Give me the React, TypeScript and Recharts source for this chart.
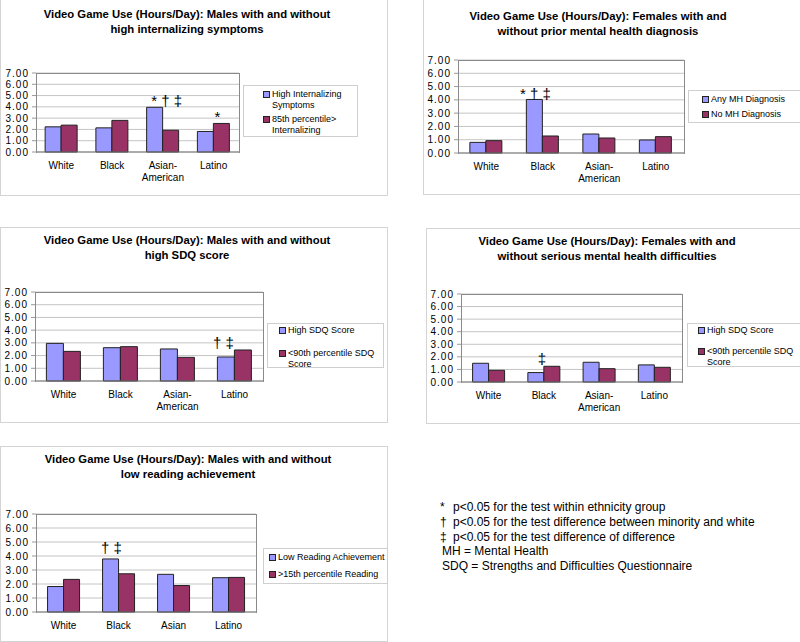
import React from 'react';
import { BarChart, Bar, XAxis, YAxis, CartesianGrid, LabelList } from 'recharts';

const FONT = 'Arial, "Liberation Sans", sans-serif';
const BLUE = '#9999FF';
const PLUM = '#993366';

const groups = ['White', 'Black', 'Asian-American', 'Latino'];
const groupsReading = ['White', 'Black', 'Asian', 'Latino'];
const yTicks = [0, 1, 2, 3, 4, 5, 6, 7];

// males, internalizing symptoms
const intTitle = ['Video Game Use (Hours/Day): Males with and without', 'high internalizing symptoms'];
const intNames = ['High Internalizing Symptoms', '85th percentile> Internalizing'];
const intHigh = [2.23, 2.14, 3.96, 1.82];
const intRest = [2.38, 2.8, 1.93, 2.53];
const intMarks = ['', '', '* † ‡', '*'];

// females, prior MH diagnosis
const mhTitle = ['Video Game Use (Hours/Day): Females with and', 'without prior mental health diagnosis'];
const mhNames = ['Any MH Diagnosis', 'No MH Diagnosis'];
const mhAny = [0.8, 4.03, 1.43, 0.98];
const mhNone = [0.93, 1.28, 1.13, 1.23];
const mhMarks = ['', '* † ‡', '', ''];

// males, SDQ
const sdqMTitle = ['Video Game Use (Hours/Day): Males with and without', 'high SDQ score'];
const sdqNames = ['High SDQ Score', '<90th percentile SDQ Score'];
const sdqMHigh = [2.96, 2.62, 2.52, 1.89];
const sdqMRest = [2.33, 2.7, 1.86, 2.44];
const sdqMMarks = ['', '', '', '† ‡'];

// females, serious MH difficulties
const sdqFTitle = ['Video Game Use (Hours/Day): Females with and', 'without serious mental health difficulties'];
const sdqFHigh = [1.49, 0.75, 1.57, 1.36];
const sdqFRest = [0.93, 1.25, 1.06, 1.17];
const sdqFMarks = ['', '‡', '', ''];

// males, reading
const readTitle = ['Video Game Use (Hours/Day): Males with and without', 'low reading achievement'];
const readNames = ['Low Reading Achievement', '>15th percentile Reading'];
const readLow = [1.82, 3.79, 2.69, 2.45];
const readRest = [2.33, 2.73, 1.89, 2.47];
const readMarks = ['', '† ‡', '', ''];

const footnotes = [
  ['*', 'p<0.05 for the test within ethnicity group'],
  ['†', 'p<0.05 for the test difference between minority and white'],
  ['‡', 'p<0.05 for the test difference of difference'],
  ['', 'MH = Mental Health'],
  ['', 'SDQ = Strengths and Difficulties Questionnaire'],
];

type Rect = { x: number; y: number; w: number; h: number };
type LegendLayout = { x: number; y: number; w: number; h: number; padTop: number; padLeft: number; gap: number; textW: number };

type PanelProps = {
  box: Rect;
  plot: Rect;
  titleX: number;
  titleY: number;
  legend: LegendLayout;
  catGap: string;
  markDx: number;
  markLift: number;
  title: string[];
  names: string[];
  cats: string[];
  a: number[];
  b: number[];
  marks: string[];
};

const CatTick = (props: any) => {
  const { x, y, payload } = props;
  const label: string = payload.value;
  const k = label.indexOf('-');
  const lines = k >= 0 ? [label.slice(0, k + 1), label.slice(k + 1)] : [label];
  return (
    <text x={x} y={y} textAnchor="middle" fontSize={10} fill="#000" fontFamily={FONT}>
      {lines.map((l, i) => (
        <tspan key={i} x={x} dy={i === 0 ? 17 : 12}>{l}</tspan>
      ))}
    </text>
  );
};

const Panel = (p: PanelProps) => {
  const data = p.cats.map((c, i) => ({ cat: c, a: p.a[i], b: p.b[i], i }));
  const top = 6;
  const left = 40;

  const renderMark = (lp: any) => {
    const vb = lp.viewBox && lp.viewBox.width !== undefined ? lp.viewBox : lp;
    const i = Number(lp.value);
    const mark = p.marks[i];
    if (!mark) return null;
    const bottom = vb.y + vb.height;
    const perUnit = vb.height / p.a[i];
    const peak = bottom - Math.max(p.a[i], p.b[i]) * perUnit;
    return (
      <text x={vb.x + vb.width + p.markDx} y={peak - p.markLift} textAnchor="middle" fontSize={15} fill="#000" fontFamily={FONT}>
        {mark}
      </text>
    );
  };

  return (
    <>
      <div style={{ position: 'absolute', left: p.box.x, top: p.box.y, width: p.box.w, height: p.box.h, border: '1px solid #d4d4d4', boxSizing: 'border-box', background: '#fff' }} />
      <div style={{ position: 'absolute', left: p.titleX - 200, top: p.titleY, width: 400, textAlign: 'center', fontSize: 11.3, fontWeight: 'bold', lineHeight: '14.5px', color: '#000' }}>
        {p.title.map((t, i) => <div key={i}>{t}</div>)}
      </div>
      <div style={{ position: 'absolute', left: p.plot.x - left, top: p.plot.y - top }}>
        <BarChart
          width={p.plot.w + left + 6}
          height={p.plot.h + top + 40}
          data={data}
          margin={{ top, right: 6, left: 0, bottom: 0 }}
          barCategoryGap={p.catGap}
          barGap={0}
        >
          <CartesianGrid vertical={false} stroke="#c4c4c4" />
          <XAxis dataKey="cat" height={40} tick={<CatTick />} tickLine={false} tickSize={0} tickMargin={0} axisLine={{ stroke: '#777' }} interval={0} />
          <YAxis
            width={left}
            domain={[0, 7]}
            ticks={yTicks}
            interval={0}
            axisLine={false}
            tickLine={{ stroke: '#999' }}
            tickSize={4}
            tickMargin={3}
            tickFormatter={(v: number) => v.toFixed(2)}
            tick={{ fontSize: 10, fill: '#000', fontFamily: FONT, letterSpacing: 1 }}
          />
          <Bar dataKey="a" name={p.names[0]} fill={BLUE} stroke="#222" strokeWidth={1} isAnimationActive={false}>
            <LabelList dataKey="i" content={renderMark} />
          </Bar>
          <Bar dataKey="b" name={p.names[1]} fill={PLUM} stroke="#222" strokeWidth={1} isAnimationActive={false} />
        </BarChart>
      </div>
      <div style={{ position: 'absolute', left: p.plot.x, top: p.plot.y, width: p.plot.w + 1, height: p.plot.h + 1, border: '1px solid #8a8a8a', borderBottom: 'none', boxSizing: 'border-box', pointerEvents: 'none' }} />
      <div style={{ position: 'absolute', left: p.legend.x, top: p.legend.y, width: p.legend.w, height: p.legend.h, border: '1px solid #cfcfcf', boxSizing: 'border-box', background: '#fff', paddingTop: p.legend.padTop, paddingLeft: p.legend.padLeft, overflow: 'hidden' }}>
        {p.names.map((n, i) => (
          <div key={n} style={{ display: 'flex', alignItems: 'flex-start', marginTop: i === 0 ? 0 : p.legend.gap }}>
            <div style={{ width: 7, height: 7, marginTop: 2, marginRight: 2, boxSizing: 'border-box', border: '1px solid #222', background: i === 0 ? BLUE : PLUM, flexShrink: 0 }} />
            <div style={{ width: p.legend.textW, fontSize: 9, lineHeight: '11px', color: '#000' }}>{n}</div>
          </div>
        ))}
      </div>
    </>
  );
};

export default function App() {
  return (
    <div style={{ position: 'absolute', left: 0, top: 0, width: 800, height: 642, overflow: 'hidden', background: '#fff', fontFamily: FONT }}>
      <Panel
        box={{ x: 0, y: -1, w: 388, h: 197 }}
        plot={{ x: 36, y: 73, w: 203, h: 79 }}
        titleX={187}
        titleY={7}
        legend={{ x: 243, y: 85, w: 115, h: 52, padTop: 3, padLeft: 19, gap: 3, textW: 85 }}
        catGap="18%"
        markDx={4}
        markLift={1}
        title={intTitle}
        names={intNames}
        cats={groups}
        a={intHigh}
        b={intRest}
        marks={intMarks}
      />
      <Panel
        box={{ x: 423, y: -1, w: 390, h: 196 }}
        plot={{ x: 458, y: 60, w: 226, h: 93 }}
        titleX={598}
        titleY={9}
        legend={{ x: 688, y: 90, w: 130, h: 33, padTop: 3, padLeft: 13, gap: 4, textW: 110 }}
        catGap="21%"
        markDx={-7}
        markLift={0}
        title={mhTitle}
        names={mhNames}
        cats={groups}
        a={mhAny}
        b={mhNone}
        marks={mhMarks}
      />
      <Panel
        box={{ x: 0, y: 227, w: 388, h: 196 }}
        plot={{ x: 35, y: 292, w: 228, h: 89 }}
        titleX={187}
        titleY={233}
        legend={{ x: 267, y: 323, w: 117, h: 45, padTop: 1, padLeft: 11, gap: 12, textW: 95 }}
        catGap="20%"
        markDx={-11}
        markLift={2}
        title={sdqMTitle}
        names={sdqNames}
        cats={groups}
        a={sdqMHigh}
        b={sdqMRest}
        marks={sdqMMarks}
      />
      <Panel
        box={{ x: 426, y: 228, w: 390, h: 196 }}
        plot={{ x: 461, y: 294, w: 221, h: 88 }}
        titleX={607}
        titleY={234}
        legend={{ x: 687, y: 323, w: 130, h: 44, padTop: 1, padLeft: 10, gap: 10, textW: 95 }}
        catGap="21%"
        markDx={-2}
        markLift={2}
        title={sdqFTitle}
        names={sdqNames}
        cats={groups}
        a={sdqFHigh}
        b={sdqFRest}
        marks={sdqFMarks}
      />
      <Panel
        box={{ x: 0, y: 446, w: 388, h: 196 }}
        plot={{ x: 36, y: 514, w: 220, h: 98 }}
        titleX={188}
        titleY={452}
        legend={{ x: 263, y: 548, w: 125, h: 36, padTop: 3, padLeft: 5, gap: 6, textW: 115 }}
        catGap="21%"
        markDx={-7}
        markLift={6}
        title={readTitle}
        names={readNames}
        cats={groupsReading}
        a={readLow}
        b={readRest}
        marks={readMarks}
      />
      <div style={{ position: 'absolute', left: 438, top: 500, fontSize: 12, lineHeight: '14.8px', color: '#000' }}>
        {footnotes.map(([sym, text], i) => (
          <div key={i} style={{ display: 'flex', whiteSpace: 'nowrap' }}>
            {sym ? <span style={{ width: 15, paddingLeft: 2, boxSizing: 'border-box' }}>{sym}</span> : <span style={{ width: 4 }} />}
            <span>{text}</span>
          </div>
        ))}
      </div>
    </div>
  );
}
